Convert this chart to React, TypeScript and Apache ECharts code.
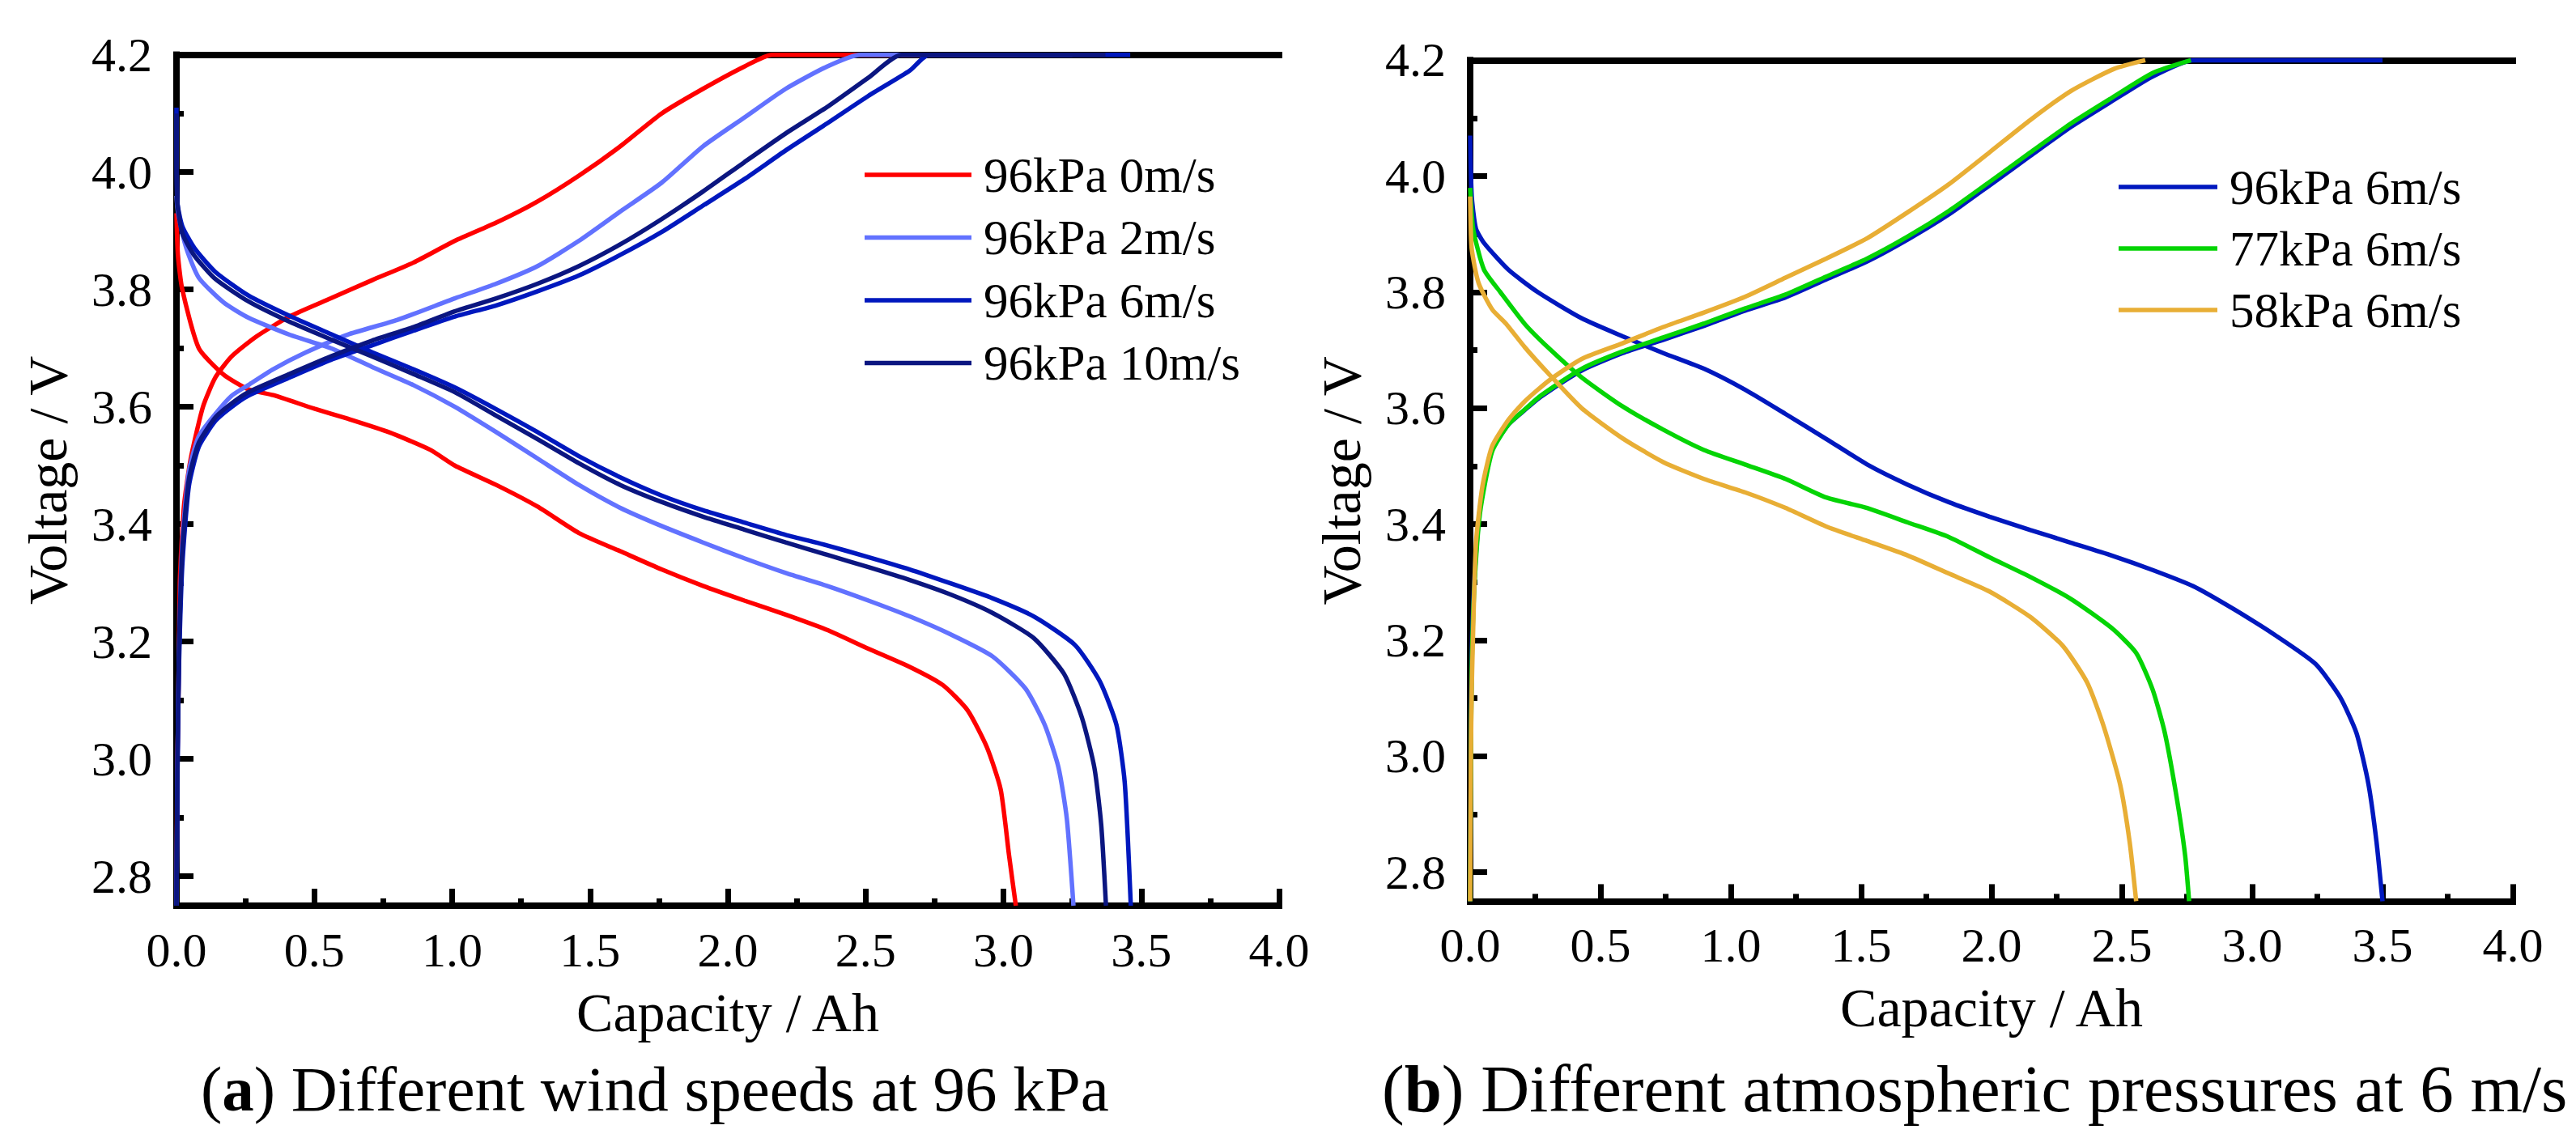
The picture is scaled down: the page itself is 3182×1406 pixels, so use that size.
import React, { useEffect, useRef } from "react";
import * as echarts from "echarts";

// ---------- tick values ----------
const X_MAJOR = [0, 0.5, 1, 1.5, 2, 2.5, 3, 3.5, 4];
const X_MINOR = [0.25, 0.75, 1.25, 1.75, 2.25, 2.75, 3.25, 3.75];
const Y_MAJOR = [2.8, 3.0, 3.2, 3.4, 3.6, 3.8, 4.0, 4.2];
const Y_MINOR = [2.9, 3.1, 3.3, 3.5, 3.7, 3.9, 4.1];

// ---------- legend names ----------
const NAMES_A = ["96kPa 0m/s", "96kPa 2m/s", "96kPa 6m/s", "96kPa 10m/s"];
const NAMES_B = ["96kPa 6m/s", "77kPa 6m/s", "58kPa 6m/s"];

// ---------- (a) Different wind speeds at 96 kPa : [capacity Ah, voltage V] ----------
const A_0_CHARGE = [[0,2.75],[0.003,3.0],[0.006,3.06],[0.012,3.30],[0.027,3.43],[0.051,3.51],[0.096,3.60],[0.141,3.65],[0.20,3.686],[0.29,3.72],[0.41,3.754],[0.56,3.785],[0.71,3.816],[0.86,3.846],[1.01,3.883],[1.16,3.914],[1.31,3.95],[1.46,3.994],[1.61,4.044],[1.76,4.10],[1.91,4.142],[2.06,4.18],[2.16,4.2],[3.05,4.2]];
const A_0_DISCH = [[0,3.93],[0.005,3.86],[0.021,3.80],[0.081,3.70],[0.171,3.655],[0.261,3.63],[0.351,3.62],[0.50,3.597],[0.62,3.58],[0.77,3.557],[0.92,3.527],[1.01,3.50],[1.16,3.467],[1.31,3.43],[1.46,3.385],[1.61,3.354],[1.76,3.323],[1.91,3.295],[2.06,3.27],[2.21,3.246],[2.36,3.22],[2.51,3.188],[2.66,3.157],[2.78,3.126],[2.87,3.083],[2.94,3.02],[2.99,2.948],[3.02,2.837],[3.045,2.75]];

const A_2_CHARGE = [[0,2.75],[0.004,3.0],[0.009,3.18],[0.021,3.366],[0.045,3.49],[0.081,3.55],[0.141,3.588],[0.20,3.619],[0.26,3.637],[0.35,3.664],[0.47,3.693],[0.62,3.723],[0.80,3.748],[1.01,3.785],[1.16,3.81],[1.31,3.84],[1.46,3.883],[1.61,3.933],[1.76,3.982],[1.91,4.044],[2.06,4.093],[2.21,4.142],[2.36,4.18],[2.48,4.2],[3.25,4.2]];
const A_2_DISCH = [[0,3.96],[0.006,3.93],[0.036,3.87],[0.081,3.82],[0.171,3.778],[0.261,3.752],[0.41,3.723],[0.56,3.70],[0.71,3.668],[0.86,3.637],[1.01,3.60],[1.16,3.557],[1.31,3.512],[1.46,3.467],[1.61,3.428],[1.76,3.397],[1.91,3.369],[2.06,3.342],[2.21,3.317],[2.36,3.295],[2.51,3.27],[2.66,3.243],[2.81,3.212],[2.96,3.175],[3.08,3.12],[3.15,3.058],[3.20,2.985],[3.23,2.898],[3.254,2.75]];

const A_6_CHARGE = [[0,2.75],[0.004,3.0],[0.009,3.157],[0.021,3.329],[0.045,3.465],[0.081,3.532],[0.141,3.576],[0.20,3.60],[0.26,3.619],[0.41,3.65],[0.56,3.68],[0.71,3.705],[0.86,3.73],[1.01,3.754],[1.16,3.773],[1.31,3.797],[1.46,3.824],[1.61,3.859],[1.76,3.898],[1.91,3.943],[2.06,3.988],[2.21,4.037],[2.36,4.083],[2.51,4.13],[2.66,4.173],[2.73,4.2],[3.46,4.2]];
const A_6_DISCH = [[0,4.11],[0.003,3.95],[0.021,3.908],[0.066,3.87],[0.141,3.83],[0.26,3.79],[0.41,3.755],[0.56,3.724],[0.71,3.693],[0.86,3.664],[1.01,3.633],[1.16,3.596],[1.31,3.557],[1.46,3.516],[1.61,3.48],[1.76,3.449],[1.91,3.424],[2.06,3.403],[2.21,3.382],[2.36,3.364],[2.51,3.344],[2.66,3.323],[2.81,3.299],[2.96,3.274],[3.11,3.243],[3.26,3.194],[3.35,3.132],[3.41,3.058],[3.44,2.96],[3.462,2.75]];

const A_10_CHARGE = [[0,2.75],[0.004,3.0],[0.009,3.18],[0.021,3.354],[0.045,3.477],[0.081,3.539],[0.141,3.582],[0.20,3.606],[0.26,3.625],[0.41,3.656],[0.56,3.686],[0.71,3.713],[0.86,3.736],[1.01,3.763],[1.16,3.785],[1.31,3.81],[1.46,3.84],[1.61,3.877],[1.76,3.92],[1.91,3.967],[2.06,4.017],[2.21,4.066],[2.36,4.111],[2.51,4.161],[2.63,4.2],[3.37,4.2]];
const A_10_DISCH = [[0,4.10],[0.003,3.95],[0.021,3.896],[0.066,3.857],[0.141,3.818],[0.26,3.78],[0.41,3.745],[0.56,3.715],[0.71,3.686],[0.86,3.656],[1.01,3.625],[1.16,3.585],[1.31,3.545],[1.46,3.504],[1.61,3.467],[1.76,3.438],[1.91,3.413],[2.06,3.391],[2.21,3.369],[2.36,3.348],[2.51,3.327],[2.66,3.305],[2.81,3.28],[2.96,3.249],[3.11,3.206],[3.22,3.145],[3.285,3.07],[3.33,2.985],[3.355,2.886],[3.372,2.75]];

// ---------- (b) Different atmospheric pressures at 6 m/s ----------
const B_96_CHARGE = [[0,2.75],[0.003,3.0],[0.006,3.177],[0.016,3.302],[0.038,3.428],[0.084,3.528],[0.147,3.572],[0.21,3.597],[0.272,3.62],[0.428,3.665],[0.585,3.695],[0.741,3.718],[0.897,3.742],[1.054,3.768],[1.21,3.791],[1.366,3.822],[1.523,3.853],[1.679,3.891],[1.836,3.934],[1.992,3.984],[2.149,4.035],[2.305,4.085],[2.461,4.129],[2.618,4.172],[2.774,4.2],[3.50,4.2]];
const B_96_DISCH = [[0,4.07],[0.006,3.966],[0.022,3.91],[0.053,3.885],[0.146,3.839],[0.26,3.80],[0.428,3.755],[0.585,3.724],[0.741,3.695],[0.897,3.668],[1.054,3.632],[1.21,3.59],[1.366,3.547],[1.523,3.503],[1.679,3.468],[1.836,3.438],[1.992,3.413],[2.149,3.39],[2.305,3.368],[2.461,3.346],[2.618,3.321],[2.774,3.293],[2.931,3.253],[3.087,3.209],[3.243,3.159],[3.337,3.102],[3.40,3.04],[3.446,2.952],[3.477,2.852],[3.50,2.75]];

const B_77_CHARGE = [[0,2.75],[0.003,3.0],[0.006,3.15],[0.016,3.29],[0.038,3.42],[0.084,3.525],[0.147,3.572],[0.21,3.598],[0.272,3.622],[0.428,3.668],[0.585,3.698],[0.741,3.722],[0.897,3.746],[1.054,3.772],[1.21,3.796],[1.366,3.827],[1.523,3.858],[1.679,3.896],[1.836,3.94],[1.992,3.99],[2.149,4.041],[2.305,4.091],[2.461,4.135],[2.618,4.178],[2.765,4.2]];
const B_77_DISCH = [[0,3.98],[0.012,3.908],[0.053,3.839],[0.116,3.80],[0.21,3.745],[0.303,3.703],[0.428,3.653],[0.585,3.603],[0.741,3.563],[0.897,3.528],[1.054,3.503],[1.21,3.478],[1.366,3.446],[1.523,3.428],[1.679,3.403],[1.836,3.378],[1.992,3.343],[2.149,3.309],[2.305,3.271],[2.461,3.221],[2.555,3.178],[2.618,3.115],[2.665,3.04],[2.711,2.927],[2.743,2.828],[2.758,2.75]];

const B_58_CHARGE = [[0,2.75],[0.003,3.0],[0.006,3.115],[0.022,3.365],[0.047,3.465],[0.084,3.534],[0.147,3.58],[0.21,3.612],[0.303,3.648],[0.428,3.685],[0.585,3.712],[0.741,3.74],[0.897,3.765],[1.054,3.792],[1.21,3.825],[1.366,3.858],[1.523,3.893],[1.679,3.938],[1.836,3.986],[1.992,4.041],[2.149,4.097],[2.305,4.147],[2.47,4.185],[2.59,4.2]];
const B_58_DISCH = [[0,3.965],[0.003,3.9],[0.007,3.871],[0.033,3.815],[0.085,3.77],[0.137,3.746],[0.21,3.705],[0.30,3.66],[0.428,3.60],[0.585,3.548],[0.741,3.507],[0.897,3.478],[1.054,3.455],[1.21,3.428],[1.366,3.396],[1.523,3.371],[1.679,3.346],[1.836,3.315],[1.992,3.284],[2.149,3.24],[2.274,3.19],[2.367,3.127],[2.43,3.052],[2.493,2.952],[2.53,2.852],[2.555,2.75]];

// ---------- colours ----------
const COLORS_A = ["#FF0000", "#6272FF", "#0018BE", "#0B1680"];
const COLORS_B = ["#0018BE", "#05D405", "#E8AE35"];

const FONT = "Liberation Serif";

function fmt(v: number) {
  return Number(v).toFixed(1);
}

function txt(size: number) {
  return { t: { fontSize: size, fontFamily: FONT, fontWeight: "normal", color: "#000" } };
}

function axesFor(gi: number, xName: string, yName: string, yGap: number) {
  const black = "#000";
  const border = { show: true, lineStyle: { color: black, width: 8, cap: "square" } };
  const xAxes = [
    {
      gridIndex: gi, type: "value", position: "bottom", min: 0, max: 4, interval: 0.5,
      axisLine: border,
      axisTick: { show: true, inside: true, length: 21, customValues: X_MAJOR, lineStyle: { color: black, width: 7 } },
      axisLabel: { show: true, customValues: X_MAJOR, margin: 25, fontSize: 60, fontFamily: FONT, color: black,
        formatter: (v: number) => "{t|" + fmt(v) + "}", rich: txt(60) },
      splitLine: { show: false },
      name: "{t|" + xName + "}", nameLocation: "middle", nameGap: 98,
      nameTextStyle: { fontSize: 68, fontFamily: FONT, color: black, rich: txt(68) },
    },
    {
      gridIndex: gi, type: "value", position: "bottom", min: 0, max: 4,
      axisLine: { show: false },
      axisTick: { show: true, inside: true, length: 9, customValues: X_MINOR, lineStyle: { color: black, width: 7 } },
      axisLabel: { show: false }, splitLine: { show: false },
    },
    {
      gridIndex: gi, type: "value", position: "top", min: 0, max: 4,
      axisLine: border, axisTick: { show: false }, axisLabel: { show: false }, splitLine: { show: false },
    },
  ];
  const yAxes = [
    {
      gridIndex: gi, type: "value", position: "left", min: 2.75, max: 4.2,
      axisLine: border,
      axisTick: { show: true, inside: true, length: 21, customValues: Y_MAJOR, lineStyle: { color: black, width: 7 } },
      axisLabel: { show: true, customValues: Y_MAJOR, margin: 30, fontSize: 60, fontFamily: FONT, color: black,
        formatter: (v: number) => "{t|" + fmt(v) + "}", rich: txt(60) },
      splitLine: { show: false },
      name: "{t|" + yName + "}", nameLocation: "middle", nameGap: yGap, nameRotate: 90,
      nameTextStyle: { fontSize: 68, fontFamily: FONT, color: black, rich: txt(68) },
    },
    {
      gridIndex: gi, type: "value", position: "left", min: 2.75, max: 4.2,
      axisLine: { show: false },
      axisTick: { show: true, inside: true, length: 9, customValues: Y_MINOR, lineStyle: { color: black, width: 7 } },
      axisLabel: { show: false }, splitLine: { show: false },
    },
    {
      gridIndex: gi, type: "value", position: "right", min: 2.75, max: 4.2,
      axisLine: border, axisTick: { show: false }, axisLabel: { show: false }, splitLine: { show: false },
    },
  ];
  return { xAxes, yAxes };
}

function lineSeries(name: string, data: number[][], color: string, xi: number, yi: number) {
  return {
    type: "line", name, data, xAxisIndex: xi, yAxisIndex: yi,
    showSymbol: false, symbol: "none", clip: false,
    smooth: 0.2,
    lineStyle: { color, width: 5.5 }, itemStyle: { color },
    emphasis: { disabled: true }, z: 3,
  };
}

export default function App() {
  const ref = useRef<HTMLDivElement>(null);
  useEffect(() => {
    if (!ref.current) return;
    const chart = echarts.init(ref.current, undefined, { renderer: "svg" });
    const a = axesFor(0, "Capacity / Ah", "Voltage / V", 125);
    const b = axesFor(1, "Capacity / Ah", "Voltage / V", 125);
    const seriesA = [
      [A_0_CHARGE, A_0_DISCH],
      [A_2_CHARGE, A_2_DISCH],
      [A_6_CHARGE, A_6_DISCH],
      [A_10_CHARGE, A_10_DISCH],
    ];
    const seriesB = [
      [B_96_CHARGE, B_96_DISCH],
      [B_77_CHARGE, B_77_DISCH],
      [B_58_CHARGE, B_58_DISCH],
    ];
    const series: any[] = [];
    seriesA.forEach((pair, i) => {
      series.push(lineSeries(NAMES_A[i], pair[0], COLORS_A[i], 0, 0));
      series.push(lineSeries(NAMES_A[i], pair[1], COLORS_A[i], 0, 0));
    });
    seriesB.forEach((pair, i) => {
      series.push(lineSeries(NAMES_B[i], pair[0], COLORS_B[i], 3, 3));
      series.push(lineSeries(NAMES_B[i], pair[1], COLORS_B[i], 3, 3));
    });
    const richA = {
      p: { fontSize: 79, fontFamily: FONT, fontWeight: "normal", color: "#000" },
      b: { fontSize: 79, fontFamily: FONT, fontWeight: "bold", color: "#000" },
    };
    const richB = {
      p: { fontSize: 83, fontFamily: FONT, fontWeight: "normal", color: "#000" },
      b: { fontSize: 83, fontFamily: FONT, fontWeight: "bold", color: "#000" },
    };
    const legendText = (size: number, pad: number) => ({
      fontSize: size, fontFamily: FONT, color: "#000", padding: [0, 0, 0, pad], rich: txt(size),
    });
    chart.setOption({
      animation: false,
      backgroundColor: "#fff",
      textStyle: { fontFamily: FONT },
      title: [
        { text: "{p|(}{b|a}{p|) Different wind speeds at 96 kPa}", left: 248, top: 1306, padding: 0,
          textStyle: { fontFamily: FONT, fontWeight: "normal", fontSize: 79, rich: richA } },
        { text: "{p|(}{b|b}{p|) Different atmospheric pressures at 6 m/s}", left: 1707, top: 1303, padding: 0,
          textStyle: { fontFamily: FONT, fontWeight: "normal", fontSize: 83, rich: richB } },
      ],
      grid: [
        { left: 218, top: 67.7, width: 1362, height: 1051.3, containLabel: false },
        { left: 1816, top: 74.4, width: 1288, height: 1039, containLabel: false },
      ],
      legend: [
        {
          data: NAMES_A, orient: "vertical", left: 1068, top: 185.5, padding: 0,
          itemWidth: 132, itemHeight: 5.5, itemGap: 16.5, selectedMode: false, icon: "rect",
          formatter: (n: string) => "{t|" + n + "}",
          textStyle: legendText(61, 10),
        },
        {
          data: NAMES_B, orient: "vertical", left: 2617, top: 200.5, padding: 0,
          itemWidth: 122, itemHeight: 5.5, itemGap: 15, selectedMode: false, icon: "rect",
          formatter: (n: string) => "{t|" + n + "}",
          textStyle: legendText(61, 10),
        },
      ],
      xAxis: [...a.xAxes, ...b.xAxes],
      yAxis: [...a.yAxes, ...b.yAxes],
      series,
    });
    return () => chart.dispose();
  }, []);
  return (
    <div
      ref={ref}
      style={{ position: "absolute", left: 0, top: 0, width: 3182, height: 1406, background: "#fff" }}
    />
  );
}
